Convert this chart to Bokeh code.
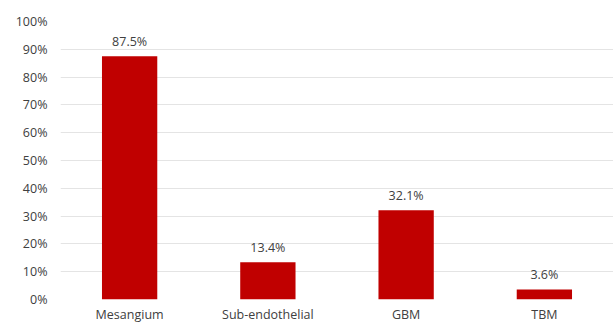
from bokeh.plotting import figure
from bokeh.models import ColumnDataSource, FixedTicker, NumeralTickFormatter, FactorRange, Range1d
from bokeh.core.properties import value
from bokeh.embed import file_html
from bokeh.resources import INLINE

categories = ["Mesangium", "Sub-endothelial", "GBM", "TBM"]
values = [0.875, 0.134, 0.321, 0.036]
labels = ["87.5%", "13.4%", "32.1%", "3.6%"]
y_ticks = [0.0, 0.1, 0.2, 0.3, 0.4, 0.5, 0.6, 0.7, 0.8, 0.9, 1.0]

src = ColumnDataSource(dict(cat=categories, val=values, lab=labels))

FONT = "Open Sans"

p = figure(width=613, height=326, x_range=FactorRange(*categories, range_padding=0),
           y_range=Range1d(0, 1.0), output_backend="svg", toolbar_location=None,
           min_border_left=60, min_border_right=0, min_border_top=21, min_border_bottom=27)

p.vbar(x="cat", top="val", width=0.40, source=src, fill_color="#C00000", line_color=None)
p.text(x="cat", y="val", text="lab", source=src, text_align="center", text_baseline="bottom",
       y_offset=-6, text_font=value(FONT), text_font_size="12.5px", text_color="#404040")

p.outline_line_color = None
p.xgrid.grid_line_color = None
p.ygrid.grid_line_color = "#E4E4E4"
p.ygrid.grid_line_width = 1

p.yaxis.ticker = FixedTicker(ticks=y_ticks)
p.yaxis.formatter = NumeralTickFormatter(format="0%")
p.yaxis.axis_line_color = None
p.yaxis.major_tick_line_color = None
p.yaxis.minor_tick_line_color = None
p.yaxis.major_tick_out = 0
p.yaxis.major_tick_in = 0
p.yaxis.minor_tick_out = 0
p.yaxis.major_label_standoff = 13
p.yaxis.major_label_text_font = FONT
p.yaxis.major_label_text_font_size = "12.5px"
p.yaxis.major_label_text_color = "#404040"

p.xaxis.axis_line_color = None
p.xaxis.major_tick_line_color = None
p.xaxis.minor_tick_line_color = None
p.xaxis.major_tick_out = 0
p.xaxis.major_tick_in = 0
p.xaxis.minor_tick_out = 0
p.xaxis.major_label_standoff = 6
p.xaxis.major_label_text_font = FONT
p.xaxis.major_label_text_font_size = "12.5px"
p.xaxis.major_label_text_color = "#404040"

open("out.html", "w").write(file_html(p, INLINE))
